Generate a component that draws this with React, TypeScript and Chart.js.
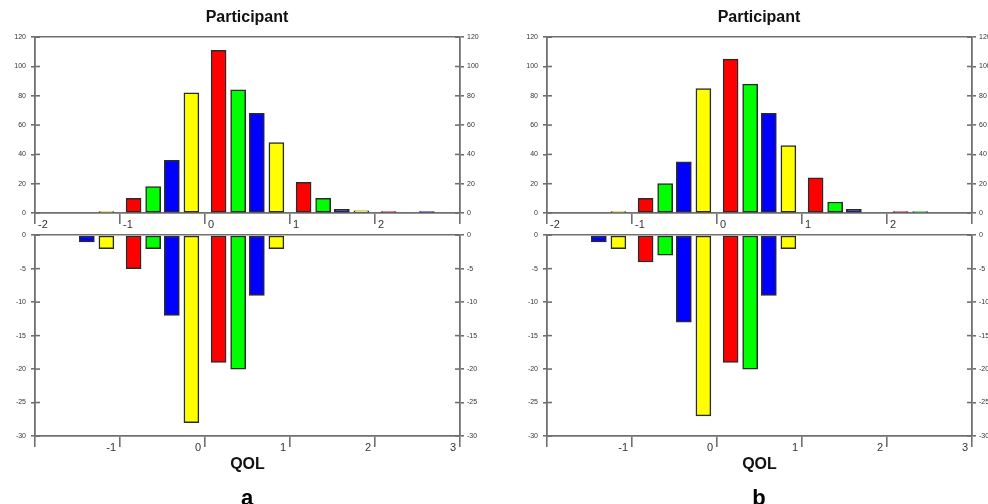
import React, { useEffect, useRef } from 'react';
import { Chart, registerables } from 'chart.js';

Chart.register(...registerables);

// QOL bin positions (x values of the bars)
const qolPositions = [-1.39, -1.16, -0.84, -0.61, -0.39, -0.16, 0.16, 0.39, 0.61, 0.84, 1.16, 1.39, 1.61, 1.84, 2.16, 2.39, 2.61];
// Panel a
const participantA = [null, 1, 10, 18, 36, 82, 111, 84, 68, 48, 21, 10, 2.5, 1.4, 1, null, 1];
const qolA = [-1, -2, -5, -2, -12, -28, -19, -20, -9, -2, null, null, null, null, null, null, null];
// Panel b
const participantB = [null, 1, 10, 20, 35, 85, 105, 88, 68, 46, 24, 7.5, 2.5, null, 1, 1, null];
const qolB = [-1, -2, -4, -3, -13, -27, -19, -20, -9, -2, null, null, null, null, null, null, null];
// Axis ticks
const xTicks = [-2, -1, 0, 1, 2, 3];
const participantRange = [0, 120, 20];
const qolRange = [-30, 0, 5];

const FONT = '"Liberation Sans", Arial, sans-serif';
const AXIS = '#707070';
const CYCLE = ['#0000ff', '#ffff00', '#ff0000', '#00ff00'];

const innerTicks = {
  id: 'innerTicks',
  afterDatasetsDraw(chart: any) {
    const ctx = chart.ctx;
    ['y', 'y2'].forEach((id) => {
      const s = chart.scales[id];
      if (!s) return;
      const x = id === 'y' ? s.right : s.left;
      const dir = id === 'y' ? 1 : -1;
      ctx.save();
      ctx.strokeStyle = AXIS;
      ctx.lineWidth = 1.6;
      s.ticks.forEach((t: any) => {
        const y = s.getPixelForValue(t.value);
        ctx.beginPath();
        ctx.moveTo(x, y);
        ctx.lineTo(x + dir * 5, y);
        ctx.stroke();
      });
      ctx.restore();
    });
  },
};

function yScale(position: 'left' | 'right', range: number[], width: number, lineAt: number) {
  return {
    type: 'linear',
    position,
    min: range[0],
    max: range[1],
    ticks: {
      stepSize: range[2],
      font: { family: FONT, size: 7 },
      color: '#333',
      padding: position === 'left' ? 5 : 3,
    },
    grid: {
      drawOnChartArea: position === 'left',
      color: (c: any) => (c.tick && c.tick.value === lineAt ? AXIS : 'rgba(0,0,0,0)'),
      tickColor: AXIS,
      tickLength: 4,
      lineWidth: 1.6,
    },
    border: { display: true, color: AXIS, width: 1.8 },
    afterFit: (s: any) => {
      s.width = width;
    },
  };
}

function makeConfig(kind: 'top' | 'bottom', values: (number | null)[]) {
  const isTop = kind === 'top';
  const pts: any[] = [];
  const colors: string[] = [];
  qolPositions.forEach((x, i) => {
    const v = values[i];
    if (v === null || v === undefined) return;
    pts.push({ x, y: v });
    colors.push(CYCLE[i % 4]);
  });
  const range = isTop ? participantRange : qolRange;
  return {
    type: 'bar',
    data: {
      datasets: [
        {
          data: pts,
          backgroundColor: colors,
          borderColor: '#2a2a2a',
          borderWidth: 1.5,
          borderSkipped: false,
          barThickness: 15,
          xAxisID: 'x',
          yAxisID: 'y',
        },
      ],
    },
    options: {
      responsive: false,
      animation: false,
      layout: { padding: 0 },
      plugins: {
        legend: { display: false },
        tooltip: { enabled: false },
        title: isTop
          ? {
              display: true,
              text: 'Participant',
              font: { family: FONT, size: 16, weight: 'bold' },
              color: '#111',
              padding: { top: 8, bottom: 10 },
            }
          : { display: false },
      },
      scales: {
        x: {
          type: 'linear',
          position: 'bottom',
          min: xTicks[0],
          max: xTicks[xTicks.length - 1],
          offset: false,
          afterBuildTicks: (s: any) => {
            s.ticks = xTicks.map((v) => ({ value: v }));
          },
          ticks: {
            autoSkip: false,
            maxRotation: 0,
            align: isTop ? 'start' : 'end',
            labelOffset: isTop ? 3 : -4,
            padding: -6,
            font: { family: FONT, size: 11 },
            color: '#333',
            callback: (v: any) => {
              if (isTop && v === xTicks[xTicks.length - 1]) return '';
              if (!isTop && v === xTicks[0]) return '';
              return String(v);
            },
          },
          grid: { drawOnChartArea: false, tickLength: 11, tickColor: AXIS, lineWidth: 1.6, offset: false },
          border: { display: true, color: AXIS, width: 1.8 },
          title: isTop
            ? { display: false }
            : {
                display: true,
                text: 'QOL',
                font: { family: FONT, size: 16, weight: 'bold' },
                color: '#111',
                padding: { top: 0, bottom: 30 },
              },
          afterFit: (s: any) => {
            s.height = isTop ? 21 : 68;
          },
        },
        y: yScale('left', range, 35, range[1]),
        y2: yScale('right', range, 34, range[1]),
      },
    },
    plugins: [innerTicks],
  };
}

function ChartBox({ kind, values, left, top, width, height }: any) {
  const ref = useRef<HTMLCanvasElement | null>(null);
  useEffect(() => {
    if (!ref.current) return;
    const chart = new Chart(ref.current, makeConfig(kind, values) as any);
    return () => chart.destroy();
  }, [kind, values]);
  return (
    <canvas
      ref={ref}
      width={width}
      height={height}
      style={{ position: 'absolute', left, top, width, height }}
    />
  );
}

const labelStyle: React.CSSProperties = {
  position: 'absolute',
  width: 494,
  top: 487,
  height: 24,
  lineHeight: '22px',
  textAlign: 'center',
  fontFamily: FONT,
  fontWeight: 'bold',
  fontSize: 22,
  color: '#000',
};

export default function App() {
  return (
    <div
      style={{
        position: 'absolute',
        left: 0,
        top: 0,
        width: 988,
        height: 504,
        overflow: 'hidden',
        background: '#fff',
      }}
    >
      <ChartBox kind="top" values={participantA} left={0} top={0} width={494} height={234} />
      <ChartBox kind="bottom" values={qolA} left={0} top={226} width={494} height={278} />
      <ChartBox kind="top" values={participantB} left={512} top={0} width={494} height={234} />
      <ChartBox kind="bottom" values={qolB} left={512} top={226} width={494} height={278} />
      <div style={{ ...labelStyle, left: 0 }}>a</div>
      <div style={{ ...labelStyle, left: 512 }}>b</div>
    </div>
  );
}
